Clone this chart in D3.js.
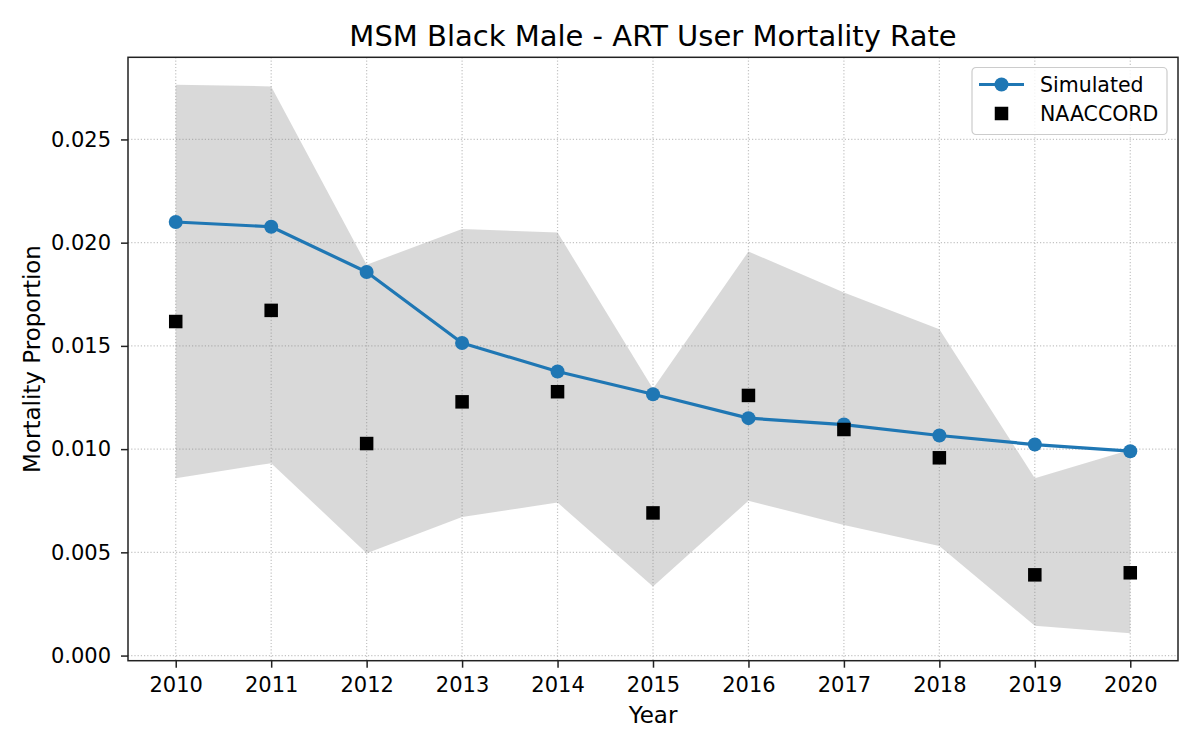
<!DOCTYPE html>
<html>
<head>
<meta charset="utf-8">
<script src="https://cdn.jsdelivr.net/npm/d3@7"></script>
<style>
  body { margin: 0; background: #fff; }
  text { font-family: "DejaVu Sans", sans-serif; fill: #000; }
</style>
</head>
<body>
<svg id="chart" width="1200" height="750"></svg>
<script>
// data
let years = [2010, 2011, 2012, 2013, 2014, 2015, 2016, 2017, 2018, 2019, 2020]
let simulated = [0.02100, 0.02077, 0.01858, 0.01514, 0.01376, 0.01266, 0.01150, 0.01119, 0.01066, 0.01022, 0.00990]
let simLower = [0.00859, 0.00932, 0.00496, 0.00671, 0.00741, 0.00334, 0.00750, 0.00633, 0.00531, 0.00144, 0.00108]
let simUpper = [0.02765, 0.02757, 0.01893, 0.02066, 0.02049, 0.01293, 0.01957, 0.01759, 0.01581, 0.00859, 0.00997]
let naaccord = [0.01618, 0.01672, 0.01027, 0.01229, 0.01278, 0.00691, 0.01260, 0.01095, 0.00958, 0.00391, 0.00401]
let yTicks = [0, 0.005, 0.010, 0.015, 0.020, 0.025]

let mLeft = 128, mRight = 1178, mTop = 57.3, mBottom = 660.7
let svg = d3.select("#chart")

// matplotlib style 5% margins
let allY = simLower.concat(simUpper, simulated, naaccord)
let yMin = d3.min(allY), yMax = d3.max(allY)
let pad = (yMax - yMin) * 0.05
let xScale = d3.scaleLinear().domain([years[0] - 0.5, years[years.length - 1] + 0.5]).range([mLeft, mRight])
let yScale = d3.scaleLinear().domain([yMin - pad, yMax + pad]).range([mBottom, mTop])

let rows = years.map(function (y, i) {
    return {x: y, sim: simulated[i], lo: simLower[i], hi: simUpper[i], obs: naaccord[i]}
})

// grid
let grid = svg.append("g").attr("class", "grid")
grid.selectAll(".gx").data(years).enter().append("line")
    .attr("x1", d => xScale(d)).attr("x2", d => xScale(d))
    .attr("y1", mTop).attr("y2", mBottom)
grid.selectAll(".gy").data(yTicks).enter().append("line")
    .attr("x1", mLeft).attr("x2", mRight)
    .attr("y1", d => yScale(d)).attr("y2", d => yScale(d))
grid.selectAll("line")
    .attr("stroke", "#b0b0b0").attr("stroke-width", 1.2)
    .attr("stroke-dasharray", "1.2,2").attr("opacity", 0.75)

// uncertainty band
let area = d3.area().x(d => xScale(d.x)).y0(d => yScale(d.lo)).y1(d => yScale(d.hi))
svg.append("path").datum(rows)
    .attr("d", area)
    .attr("fill", "#808080").attr("fill-opacity", 0.3)

// simulated line
let line = d3.line().x(d => xScale(d.x)).y(d => yScale(d.sim))
svg.append("path").datum(rows)
    .attr("d", line)
    .attr("fill", "none").attr("stroke", "#1f77b4").attr("stroke-width", 3.2)
    .attr("stroke-linejoin", "round")
svg.selectAll(".simdot").data(rows).enter().append("circle")
    .attr("class", "simdot")
    .attr("cx", d => xScale(d.x)).attr("cy", d => yScale(d.sim))
    .attr("r", 7).attr("fill", "#1f77b4")

// NAACCORD squares
let sq = 13.5
svg.selectAll(".obs").data(rows).enter().append("rect")
    .attr("class", "obs")
    .attr("x", d => xScale(d.x) - sq / 2).attr("y", d => yScale(d.obs) - sq / 2)
    .attr("width", sq).attr("height", sq).attr("fill", "#000")

// axes
let xAxis = d3.axisBottom(xScale).tickValues(years).tickFormat(d3.format("d")).tickSize(7).tickPadding(9.5)
let yAxis = d3.axisLeft(yScale).tickValues(yTicks).tickFormat(d3.format(".3f")).tickSize(7).tickPadding(10)
let gx = svg.append("g").attr("transform", `translate(0,${mBottom})`).call(xAxis)
let gy = svg.append("g").attr("transform", `translate(${mLeft},0)`).call(yAxis)
;[gx, gy].forEach(function (g) {
    g.select(".domain").remove()
    g.selectAll("line").attr("stroke", "#222").attr("stroke-width", 1.5)
    g.selectAll("text").attr("font-size", "21px").attr("font-family", "DejaVu Sans").attr("fill", "#000")
})

// frame
svg.append("rect")
    .attr("x", mLeft).attr("y", mTop).attr("width", mRight - mLeft).attr("height", mBottom - mTop)
    .attr("fill", "none").attr("stroke", "#222").attr("stroke-width", 1.5)

// labels and title
svg.append("text")
    .attr("x", (mLeft + mRight) / 2).attr("y", 46)
    .attr("text-anchor", "middle").attr("font-size", "29px")
    .text("MSM Black Male - ART User Mortality Rate")
svg.append("text")
    .attr("x", (mLeft + mRight) / 2).attr("y", 723)
    .attr("text-anchor", "middle").attr("font-size", "23px")
    .text("Year")
svg.append("text")
    .attr("transform", `translate(40,${(mTop + mBottom) / 2}) rotate(-90)`)
    .attr("text-anchor", "middle").attr("font-size", "23px")
    .text("Mortality Proportion")

// legend
let lg = svg.append("g").attr("transform", "translate(972,67.5)")
lg.append("rect")
    .attr("width", 195).attr("height", 67).attr("rx", 4)
    .attr("fill", "#fff").attr("fill-opacity", 0.8)
    .attr("stroke", "#cccccc").attr("stroke-width", 1.2)
lg.append("line")
    .attr("x1", 7).attr("x2", 52).attr("y1", 17).attr("y2", 17)
    .attr("stroke", "#1f77b4").attr("stroke-width", 3.2)
lg.append("circle").attr("cx", 29.5).attr("cy", 17).attr("r", 7).attr("fill", "#1f77b4")
lg.append("rect").attr("x", 29.5 - sq / 2).attr("y", 46 - sq / 2)
    .attr("width", sq).attr("height", sq).attr("fill", "#000")
lg.append("text").attr("x", 68).attr("y", 24.5).attr("font-size", "20.5px").text("Simulated")
lg.append("text").attr("x", 68).attr("y", 53.5).attr("font-size", "20.5px").text("NAACCORD")
</script>
</body>
</html>
